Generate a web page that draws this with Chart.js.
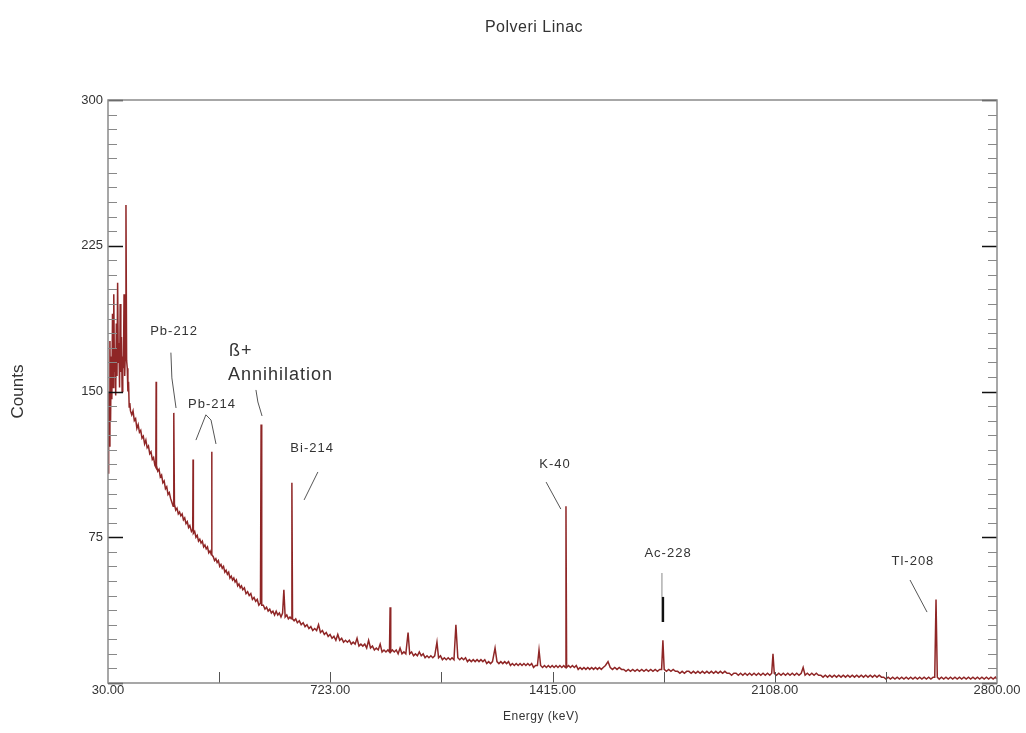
<!DOCTYPE html>
<html>
<head>
<meta charset="utf-8">
<title>Polveri Linac</title>
<script src="https://cdn.jsdelivr.net/npm/chart.js@4.4.1/dist/chart.umd.min.js"></script>
<style>
  html, body { margin: 0; padding: 0; background: #fff; }
  #wrap { width: 1026px; height: 733px; }
</style>
</head>
<body>
<div id="wrap"><canvas id="spectrumChart" width="1026" height="733"></canvas></div>
<script>
// gamma spectrum: energy (keV) and counts per channel
const energyKeV = [
  30, 32, 34, 36, 38, 40, 42, 44, 46, 48,
  50, 52, 54, 56, 58, 60, 62, 64, 66, 68,
  70, 72, 74, 76, 78, 80, 82, 84, 86, 88,
  90, 92, 94, 96, 98, 100, 104, 108, 112, 116,
  120, 124, 128, 132, 136, 140, 144, 148, 152, 156,
  160, 164, 168, 172, 176, 179, 180, 181, 185, 189,
  193, 197, 201, 205, 209, 213, 217, 221, 225, 229,
  233, 235, 237, 241, 245, 249, 253, 257, 261, 265,
  269, 273, 277, 281, 285, 290, 294, 295, 296, 300,
  304, 308, 312, 316, 320, 324, 328, 332, 336, 340,
  344, 348, 352, 353, 354, 358, 362, 366, 370, 374,
  378, 382, 386, 390, 394, 398, 402, 406, 410, 414,
  418, 422, 426, 430, 434, 438, 442, 446, 450, 455,
  460, 465, 470, 475, 480, 485, 490, 495, 500, 505,
  507, 509, 514, 519, 524, 529, 534, 539, 544, 549,
  554, 559, 564, 569, 574, 578, 582, 587, 592, 597,
  601, 603, 605, 610, 615, 620, 626, 632, 638, 644,
  650, 656, 662, 668, 674, 680, 686, 692, 698, 704,
  710, 716, 722, 728, 734, 740, 746, 752, 758, 764,
  770, 776, 782, 788, 794, 800, 806, 812, 818, 824,
  830, 836, 842, 848, 854, 860, 866, 872, 878, 884,
  890, 896, 902, 907, 909, 911, 916, 922, 928, 934,
  940, 946, 952, 958, 965, 970, 976, 982, 988, 994,
  1000, 1006, 1012, 1018, 1024, 1030, 1036, 1042, 1048, 1055,
  1060, 1066, 1072, 1078, 1084, 1090, 1096, 1102, 1108, 1114,
  1120, 1126, 1132, 1138, 1144, 1150, 1156, 1162, 1168, 1174,
  1180, 1186, 1192, 1198, 1204, 1210, 1216, 1222, 1228, 1236,
  1242, 1248, 1254, 1260, 1266, 1272, 1278, 1284, 1290, 1296,
  1302, 1308, 1314, 1320, 1326, 1332, 1338, 1344, 1350, 1356,
  1362, 1368, 1373, 1378, 1384, 1390, 1396, 1402, 1408, 1414,
  1420, 1426, 1432, 1438, 1444, 1450, 1455, 1457, 1459, 1465,
  1471, 1477, 1483, 1489, 1495, 1501, 1507, 1513, 1519, 1525,
  1531, 1537, 1543, 1549, 1555, 1561, 1567, 1573, 1580, 1588,
  1595, 1602, 1609, 1616, 1623, 1630, 1637, 1644, 1651, 1658,
  1665, 1672, 1679, 1686, 1693, 1700, 1707, 1714, 1721, 1728,
  1735, 1742, 1749, 1755, 1759, 1763, 1770, 1777, 1784, 1791,
  1798, 1805, 1812, 1819, 1826, 1833, 1840, 1847, 1854, 1861,
  1868, 1875, 1882, 1889, 1896, 1903, 1910, 1917, 1924, 1931,
  1938, 1945, 1952, 1959, 1966, 1973, 1980, 1987, 1994, 2001,
  2008, 2015, 2022, 2029, 2036, 2043, 2050, 2057, 2064, 2071,
  2078, 2085, 2092, 2098, 2102, 2106, 2113, 2120, 2127, 2134,
  2141, 2148, 2155, 2162, 2169, 2176, 2183, 2190, 2196, 2202,
  2209, 2216, 2223, 2230, 2237, 2244, 2251, 2258, 2265, 2272,
  2279, 2286, 2293, 2300, 2307, 2314, 2321, 2328, 2335, 2342,
  2349, 2356, 2363, 2370, 2377, 2384, 2391, 2398, 2405, 2412,
  2419, 2426, 2433, 2440, 2447, 2454, 2461, 2468, 2475, 2482,
  2489, 2496, 2503, 2510, 2517, 2524, 2531, 2538, 2545, 2552,
  2559, 2566, 2573, 2580, 2587, 2594, 2601, 2606, 2610, 2614,
  2620, 2627, 2634, 2641, 2648, 2655, 2662, 2669, 2676, 2683,
  2690, 2697, 2704, 2711, 2718, 2725, 2732, 2739, 2746, 2753,
  2760, 2767, 2774, 2781, 2788, 2795, 2800
];
const counts = [
  108, 150, 122, 176, 135, 168, 146, 190, 152, 200,
  160, 172, 148, 185, 158, 206, 165, 175, 152, 195,
  160, 178, 150, 168, 162, 200, 158, 170, 246, 166,
  162, 150, 155, 142, 144, 140, 138, 140, 135, 136,
  131, 133, 129, 130, 126, 127, 123, 125, 121, 122,
  118, 119, 115, 116, 112, 111, 155, 112, 109, 110,
  106, 107, 103, 104, 100, 101, 97, 98, 95, 93,
  91, 139, 92, 89, 90, 87, 88, 86, 87, 84,
  85, 82, 83, 80, 81, 78, 79, 115, 77, 78,
  75, 76, 73, 74, 72, 73, 70, 71, 69, 70,
  67, 68, 66, 119, 66, 65, 63, 64, 62, 63,
  60, 61, 59, 60, 57, 58, 56, 57, 54, 55,
  53, 54, 52, 53, 50, 51, 49, 50, 48, 49,
  46, 47, 45, 46, 43, 44, 42, 43, 40, 41,
  133, 40, 40, 38, 39, 37, 38, 36, 37, 35,
  37, 35, 36, 34, 36, 48, 34, 35, 33, 34,
  33, 103, 33, 32, 33, 31, 32, 30, 31, 29,
  30, 28, 29, 27, 28, 27, 30, 26, 27, 25,
  26, 24, 25, 23, 24, 22, 25, 22, 23, 21,
  22, 21, 22, 20, 21, 20, 23, 19, 20, 19,
  20, 18, 22, 18, 19, 17, 18, 17, 20, 16,
  17, 16, 17, 16, 39, 16, 17, 16, 17, 15,
  18, 15, 16, 15, 26, 15, 16, 14, 15, 14,
  16, 14, 15, 13, 14, 13, 14, 13, 14, 21,
  13, 14, 12, 13, 12, 13, 12, 13, 12, 30,
  13, 12, 13, 12, 13, 11, 12, 11, 12, 11,
  12, 11, 12, 11, 12, 10, 11, 10, 11, 18,
  11, 10, 11, 10, 11, 10, 11, 9, 10, 9,
  10, 9, 10, 9, 10, 9, 10, 9, 10, 8,
  9, 9, 17, 9, 8, 9, 8, 9, 8, 9,
  8, 9, 8, 9, 8, 9, 8, 91, 8, 9,
  8, 9, 8, 9, 7, 8, 7, 8, 7, 8,
  7, 8, 7, 8, 7, 8, 7, 8, 9, 11,
  8, 7, 8, 7, 8, 7, 7, 6, 7, 6,
  7, 6, 7, 6, 7, 6, 7, 6, 7, 6,
  7, 6, 7, 7, 22, 7, 6, 7, 6, 7,
  6, 6, 5, 6, 5, 6, 6, 5, 6, 5,
  6, 5, 6, 5, 6, 5, 6, 5, 6, 5,
  6, 5, 6, 5, 5, 4, 5, 5, 4, 5,
  4, 5, 4, 5, 4, 5, 4, 5, 4, 5,
  4, 5, 4, 5, 15, 5, 4, 5, 4, 5,
  4, 5, 4, 5, 4, 5, 4, 5, 8, 4,
  5, 4, 5, 4, 5, 4, 4, 3, 4, 3,
  4, 3, 4, 3, 4, 3, 4, 3, 4, 3,
  4, 3, 4, 3, 4, 3, 4, 3, 4, 3,
  4, 3, 4, 3, 3, 2, 3, 2, 3, 2,
  3, 2, 3, 2, 3, 2, 3, 2, 3, 2,
  3, 2, 3, 2, 3, 2, 3, 3, 43, 3,
  2, 3, 2, 3, 2, 3, 2, 3, 2, 3,
  2, 3, 2, 3, 2, 3, 2, 3, 2, 3,
  2, 3, 2, 3, 2, 3, 2
];

const chartTitle = 'Polveri Linac';
const xAxisTitle = 'Energy (keV)';
const xTickValues = [30, 722.5, 1415, 2107.5, 2800];
const xTickLabels = ['30.00', '723.00', '1415.00', '2108.00', '2800.00'];
const yTickValues = [75, 150, 225, 300];

// peak labels, placed in data units (keV, counts)
const peakLabels = [
  { text: 'Pb-212', keV: 236, cts: 181, size: 13, align: 'center' },
  { text: 'Pb-214', keV: 354, cts: 143.5, size: 13, align: 'center' },
  { text: 'ß+', keV: 407, cts: 171, size: 18, align: 'left' },
  { text: 'Annihilation', keV: 404, cts: 158.5, size: 18, align: 'left' },
  { text: 'Bi-214', keV: 666, cts: 120.5, size: 13, align: 'center' },
  { text: 'K-40', keV: 1423, cts: 112.5, size: 13, align: 'center' },
  { text: 'Ac-228', keV: 1775, cts: 66.5, size: 13, align: 'center' },
  { text: 'Tl-208', keV: 2538, cts: 62.5, size: 13, align: 'center' }
];
const pointerLines = [
  { pts: [[226, 170], [229, 157], [242, 141.5]], color: '#555', width: 1 },
  { pts: [[304, 125], [335, 138], [351, 135.3], [366.5, 123]], color: '#555', width: 1 },
  { pts: [[491, 150.8], [497, 144.6], [510, 137.4]], color: '#555', width: 1 },
  { pts: [[684, 108.6], [641, 94.2]], color: '#555', width: 1 },
  { pts: [[1395, 103.4], [1441, 89.5]], color: '#555', width: 1 },
  { pts: [[1756, 56.6], [1756, 44.3]], color: '#888', width: 1 },
  { pts: [[1759, 44.3], [1759, 31.4]], color: '#111', width: 2.5 },
  { pts: [[2529, 53], [2582, 36.5]], color: '#555', width: 1 }
];

const FONT = '"Liberation Sans", Arial, sans-serif';

const frameAndTicks = {
  id: 'frameAndTicks',
  afterDatasetsDraw(chart) {
    const { ctx, chartArea: a, scales: { x, y } } = chart;
    ctx.save();
    // left / right ticks, drawn inward
    for (let v = 0; v <= 300; v += 7.5) {
      const py = Math.round(y.getPixelForValue(v)) + 0.5;
      const major = v % 75 === 0;
      ctx.strokeStyle = major ? '#111' : '#888';
      ctx.lineWidth = major ? 1.5 : 1;
      const len = major ? 15 : 9;
      ctx.beginPath();
      ctx.moveTo(a.left, py); ctx.lineTo(a.left + len, py);
      ctx.moveTo(a.right, py); ctx.lineTo(a.right - len, py);
      ctx.stroke();
    }
    // bottom ticks
    ctx.strokeStyle = '#555';
    ctx.lineWidth = 1;
    const step = (2800 - 30) / 8;
    for (let i = 1; i < 8; i++) {
      const px = Math.round(x.getPixelForValue(30 + i * step)) + 0.5;
      ctx.beginPath();
      ctx.moveTo(px, a.bottom); ctx.lineTo(px, a.bottom - 11);
      ctx.stroke();
    }
    // frame
    ctx.strokeStyle = '#8a8a8a';
    ctx.lineWidth = 1.5;
    ctx.strokeRect(a.left, a.top, a.right - a.left, a.bottom - a.top);

    // pointer lines
    pointerLines.forEach(p => {
      ctx.strokeStyle = p.color;
      ctx.lineWidth = p.width;
      ctx.beginPath();
      p.pts.forEach(([e, c], i) => {
        const px = x.getPixelForValue(e), py = y.getPixelForValue(c);
        if (i === 0) ctx.moveTo(px, py); else ctx.lineTo(px, py);
      });
      ctx.stroke();
    });
    // peak labels
    ctx.fillStyle = '#333';
    ctx.textBaseline = 'middle';
    ctx.letterSpacing = '1px';
    peakLabels.forEach(l => {
      ctx.font = l.size + 'px ' + FONT;
      ctx.textAlign = l.align;
      ctx.fillText(l.text, x.getPixelForValue(l.keV), y.getPixelForValue(l.cts));
    });

    // chart title and x axis title
    ctx.letterSpacing = '0.5px';
    ctx.textAlign = 'center';
    ctx.font = '16px ' + FONT;
    ctx.fillText(chartTitle, 534, 28);
    ctx.font = '12px ' + FONT;
    ctx.fillText(xAxisTitle, 541, 717);
    ctx.restore();
  }
};

const ctx = document.getElementById('spectrumChart').getContext('2d');
new Chart(ctx, {
  type: 'line',
  data: {
    datasets: [{
      label: chartTitle,
      data: energyKeV.map((e, i) => ({ x: e, y: counts[i] })),
      borderColor: '#8f2626',
      borderWidth: 1.5,
      pointRadius: 0,
      tension: 0,
      fill: false
    }]
  },
  options: {
    responsive: false,
    animation: false,
    layout: { padding: { left: 0, right: 29, top: 100, bottom: 0 } },
    plugins: {
      legend: { display: false },
      tooltip: { enabled: false },
      title: { display: false }
    },
    scales: {
      x: {
        type: 'linear',
        min: 30,
        max: 2800,
        grid: { display: false, drawTicks: false },
        border: { display: false },
        afterBuildTicks: s => { s.ticks = xTickValues.map(v => ({ value: v })); },
        afterFit: s => { s.height = 50; },
        ticks: {
          autoSkip: false,
          maxRotation: 0,
          padding: 0,
          color: '#333',
          font: { family: FONT, size: 13 },
          callback: (v, i) => xTickLabels[i]
        }
      },
      y: {
        min: 0,
        max: 300,
        grid: { display: false, drawTicks: false },
        border: { display: false },
        afterBuildTicks: s => { s.ticks = yTickValues.map(v => ({ value: v })); },
        afterFit: s => { s.width = 108; },
        ticks: {
          padding: 5,
          color: '#333',
          font: { family: FONT, size: 13 }
        },
        title: {
          display: true,
          text: 'Counts',
          color: '#333',
          font: { family: FONT, size: 17 },
          padding: { top: 7.8, bottom: 0 }
        }
      }
    }
  },
  plugins: [frameAndTicks]
});
</script>
</body>
</html>
